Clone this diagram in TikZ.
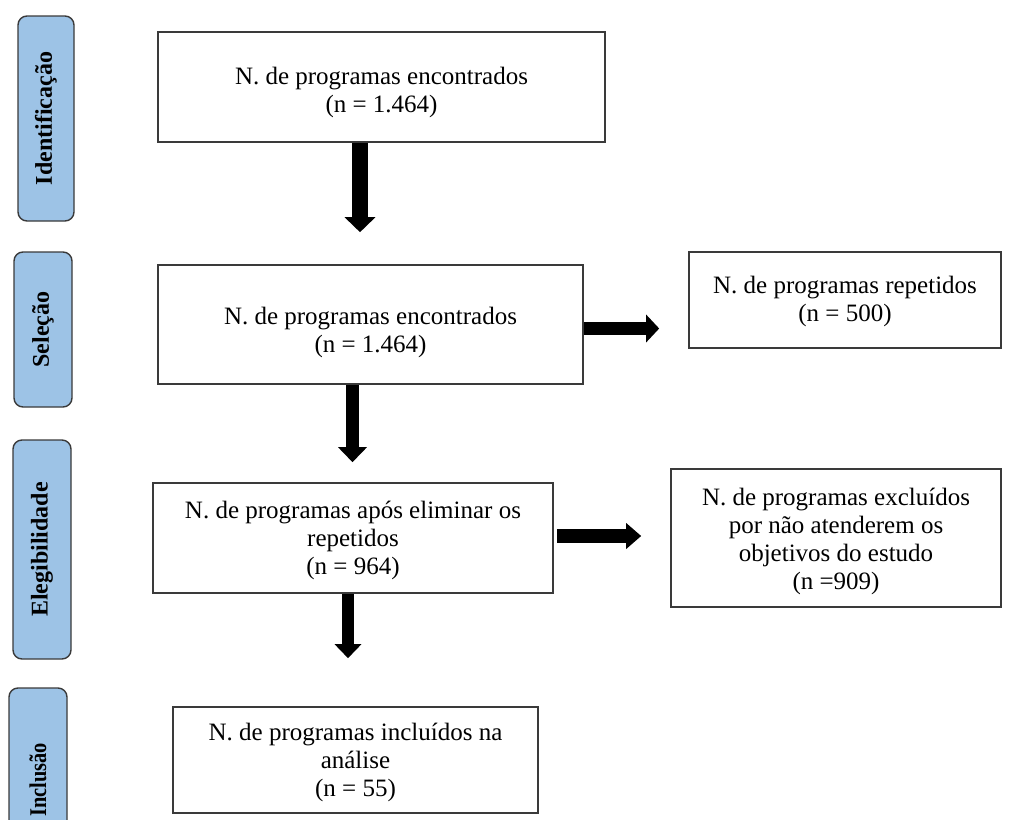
\documentclass[tikz,border=0pt]{standalone}
\usepackage{fontspec}
\setmainfont{Liberation Serif}
\usetikzlibrary{arrows.meta,calc}
\definecolor{lblue}{HTML}{9DC3E6}
\definecolor{edgec}{HTML}{3A3A3A}
\begin{document}
\begin{tikzpicture}[x=1pt,y=-1pt,
  box/.style={draw=edgec, line width=1.6pt, inner sep=0pt},
  boxtext/.style={align=center, inner sep=0pt, font=\fontsize{25}{28}\selectfont},
  phase/.style={draw=edgec, line width=1.4pt, fill=lblue, rounded corners=9pt,
    inner sep=0pt, rotate=90, font=\bfseries\fontsize{24}{28}\selectfont},
  blk/.style n args={3}{line width=#1pt, -{Triangle[width=#2pt,length=#3pt]}}
]
\useasboundingbox (0,0) rectangle (1013,820);
% phase labels
\node[phase, minimum width=205pt, minimum height=56pt] (L1) at (46,118.5) {Identificação};
\node[phase, minimum width=155pt, minimum height=58pt] (L2) at (43,329.5) {Seleção};
\node[phase, minimum width=219pt, minimum height=58pt] (L3) at (42,549.5) {Elegibilidade};
\begin{scope}
\clip (0,0) rectangle (1013,820);
\node[phase, minimum width=184pt, minimum height=58pt] (L4) at (38,780) {\scalebox{0.85}[1]{Inclusão}};
\end{scope}
% boxes
\node[box, minimum width=447pt, minimum height=110pt] (B1) at (381.5,87) {};
\node[boxtext] (B1t) at ([yshift=-5pt]B1.center) {N. de programas encontrados\\(n = 1.464)};
\node[box, minimum width=425pt, minimum height=119pt] (B2) at (370.5,324.5) {};
\node[boxtext] (B2t) at ([yshift=-8pt]B2.center) {N. de programas encontrados\\(n = 1.464)};
\node[box, minimum width=312pt, minimum height=96pt] (R1) at (845,300) {};
\node[boxtext] (R1t) at ([yshift=-1pt]R1.center) {N. de programas repetidos\\(n = 500)};
\node[box, minimum width=400pt, minimum height=110pt] (B3) at (353,538) {};
\node[boxtext] (B3t) at ([yshift=-2pt]B3.center) {N. de programas após eliminar os\\repetidos\\(n = 964)};
\node[box, minimum width=330pt, minimum height=138pt] (R2) at (836,538) {};
\node[boxtext] (R2t) at ([yshift=-3pt]R2.center) {N. de programas excluídos\\por não atenderem os\\objetivos do estudo\\(n =909)};
\node[box, minimum width=365pt, minimum height=106pt] (B4) at (355.5,760) {};
\node[boxtext] (B4t) at ([yshift=-2pt]B4.center) {N. de programas incluídos na\\análise\\(n = 55)};
% arrows
\draw[blk={16}{30}{15}, shorten >=32pt] ([xshift=-21.5pt]B1.south) -- ([xshift=-10.5pt]B2.north);
\draw[blk={13}{28}{15}, shorten >=20pt] ([xshift=-18pt]B2.south) -- ([xshift=-0.5pt]B3.north);
\draw[blk={12}{26}{14}, shorten >=48pt] ([xshift=-5pt]B3.south) -- ([xshift=-7.5pt]B4.north);
\draw[blk={13}{27}{13}, shorten >=29pt] ([yshift=-4pt]B2.east) -- ([yshift=-28.5pt]R1.west);
\draw[blk={14}{25}{15}, shorten <=3pt, shorten >=29pt] ([yshift=2pt]B3.east) -- ([yshift=2pt]R2.west);
\end{tikzpicture}
\end{document}
